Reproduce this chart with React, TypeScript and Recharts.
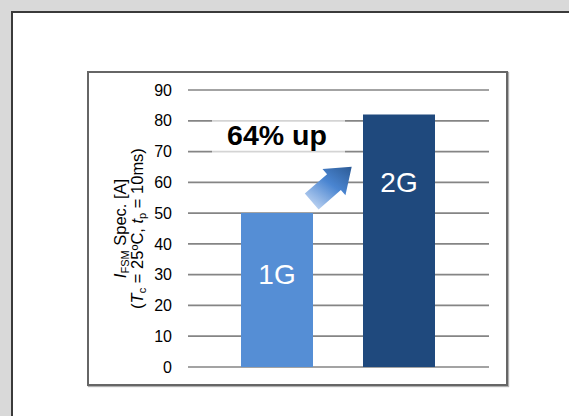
import React from 'react';
import { BarChart, Bar, XAxis, YAxis, CartesianGrid, Cell, ReferenceDot } from 'recharts';

// surge current rating per generation
const generations = ['1G', '2G'];
const ifsmValues = [50, 82];
const barColors = ['#558ed5', '#1f497d'];
const yTicks = [0, 10, 20, 30, 40, 50, 60, 70, 80, 90];

const data = generations.map((name, i) => ({ name, value: ifsmValues[i] }));
const gainPct = Math.round((ifsmValues[1] / ifsmValues[0] - 1) * 100);

const FONT = '"Liberation Sans", Arial, sans-serif';
const TITLE = 16.5;
const SUB = 11;

function AxisTitle(props: any) {
  const { viewBox } = props;
  const cy = viewBox.y + viewBox.height / 2;
  const x1 = viewBox.x + 26;
  const x2 = viewBox.x + 43;
  return (
    <g>
      <text
        transform={`translate(${x1}, ${cy}) rotate(-90)`}
        textAnchor="middle"
        fontFamily={FONT}
        fontSize={TITLE}
        fill="#000"
      >
        <tspan fontSize={TITLE} fontStyle="italic">I</tspan>
        <tspan fontSize={SUB} dy={3}>FSM</tspan>
        <tspan fontSize={TITLE} dy={-3}> Spec. [A]</tspan>
      </text>
      <text
        transform={`translate(${x2}, ${cy}) rotate(-90)`}
        textAnchor="middle"
        fontFamily={FONT}
        fontSize={TITLE}
        fill="#000"
      >
        <tspan fontSize={TITLE}>(</tspan>
        <tspan fontSize={TITLE} fontStyle="italic">T</tspan>
        <tspan fontSize={SUB} dy={3}>c</tspan>
        <tspan fontSize={TITLE} dy={-3}> = 25ºC, </tspan>
        <tspan fontSize={TITLE} fontStyle="italic">t</tspan>
        <tspan fontSize={SUB} dy={3}>p</tspan>
        <tspan fontSize={TITLE} dy={-3}> = 10ms)</tspan>
      </text>
    </g>
  );
}

function BarName({ cx, cy, name }: any) {
  return (
    <text x={cx} y={cy} textAnchor="middle" dominantBaseline="central" fill="#fff" fontFamily={FONT} fontSize={28}>
      {name}
    </text>
  );
}

function GainNote({ cx, cy }: any) {
  return (
    <g>
      <rect x={cx - 65} y={cy - 22} width={133} height={44} fill="#fff" fillOpacity={0.65} />
      <text x={cx} y={cy + 9} textAnchor="middle" fontFamily={FONT} fontSize={28.5} fontWeight="bold" fill="#000">
        {`${gainPct}% up`}
      </text>
    </g>
  );
}

// block arrow, tip at the local origin, pointing along +x before rotation
function GainArrow({ cx, cy }: any) {
  const pts = '0,0 -23.5,-17.5 -23.5,-10.5 -53,-10.5 -53,10.5 -23.5,10.5 -23.5,17.5';
  return (
    <g transform={`translate(${cx + 74.7}, ${cy - 46.4}) rotate(-41)`}>
      <defs>
        <linearGradient id="arrowFill" gradientUnits="userSpaceOnUse" x1={-53} y1={8} x2={0} y2={-4}>
          <stop offset="0" stopColor="#b4cdef" />
          <stop offset="0.5" stopColor="#4a85d1" />
          <stop offset="1" stopColor="#2b5993" />
        </linearGradient>
      </defs>
      <polygon points={pts} fill="url(#arrowFill)" />
    </g>
  );
}

export default function App() {
  return (
    <div style={{ position: 'fixed', left: 0, top: 0, width: 569, height: 416, background: '#d9d9d9', overflow: 'hidden' }}>
      <div
        style={{
          position: 'absolute',
          left: 11,
          top: 11,
          width: 569,
          height: 416,
          background: '#fff',
          borderLeft: '2px solid #3a3a3a',
          borderTop: '2px solid #3a3a3a',
        }}
      />
      <div
        style={{
          position: 'absolute',
          left: 87,
          top: 71,
          width: 421,
          height: 315,
          boxSizing: 'border-box',
          border: '2px solid #666',
          boxShadow: '1px 1px 1px #b0b0b0',
        }}
      />
      <div style={{ position: 'absolute', left: 0, top: 0 }}>
        <BarChart width={569} height={416} data={data} margin={{ top: 90, right: 80, bottom: 49, left: 100 }}>
          <CartesianGrid horizontal vertical={false} stroke="#858585" strokeWidth={1.7} />
          <XAxis dataKey="name" hide padding={{ left: 28, right: 29 }} />
          <YAxis
            width={88}
            domain={[0, 90]}
            ticks={yTicks}
            axisLine={false}
            tickLine={false}
            tickMargin={10}
            tick={{ fontSize: 16, fill: '#000', fontFamily: FONT }}
            label={{ content: AxisTitle }}
          />
          <Bar dataKey="value" barSize={72} isAnimationActive={false}>
            {data.map((entry, index) => (
              <Cell key={`cell-${index}`} fill={barColors[index]} />
            ))}
          </Bar>
          <ReferenceDot x="1G" y={30} r={0} shape={(p: any) => <BarName {...p} name="1G" />} />
          <ReferenceDot x="2G" y={60} r={0} shape={(p: any) => <BarName {...p} name="2G" />} />
          <ReferenceDot x="1G" y={75} r={0} shape={(p: any) => <GainNote {...p} />} />
          <ReferenceDot x="1G" y={50} r={0} shape={(p: any) => <GainArrow {...p} />} />
        </BarChart>
      </div>
    </div>
  );
}
